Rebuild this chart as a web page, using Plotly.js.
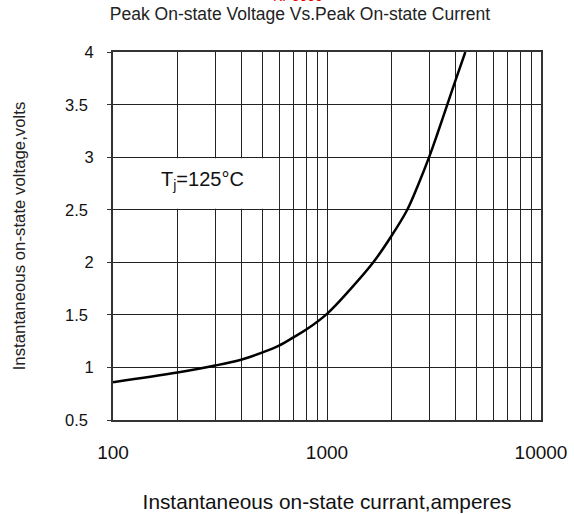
<!DOCTYPE html>
<html>
<head>
<meta charset="utf-8">
<script src="https://cdn.plot.ly/plotly-3.0.1.min.js"></script>
<style>html,body{margin:0;padding:0;background:#fff;}</style>
</head>
<body>
<div id="chart" style="width:574px;height:514px;"></div>
<script>
const currentA = [100, 200, 300, 400, 500, 600, 700, 800, 1000, 1281, 1646, 2000, 2372, 2671, 3000, 3277, 3648, 4000, 4430];
const voltageV = [0.86, 0.952, 1.018, 1.076, 1.143, 1.21, 1.288, 1.36, 1.51, 1.74, 2.0, 2.25, 2.5, 2.74, 3.0, 3.22, 3.5, 3.74, 4.0];
const xTickVals = [100, 1000, 10000];
const xTickText = ['100', '1000', '10000'];
const yIntTickVals = [1, 2, 3, 4];
const yIntTickText = ['1', '2', '3', '4'];
const yHalfTickVals = [0.5, 1.5, 2.5, 3.5];
const yHalfTickText = ['0.5', '1.5', '2.5', '3.5'];

const font = 'Liberation Sans, Arial, sans-serif';

const trace = {
  x: currentA, y: voltageV, type: 'scatter', mode: 'lines',
  line: {color: '#000', width: 2.5, shape: 'spline', smoothing: 1.0},
  hoverinfo: 'skip', showlegend: false
};

const halfLabels = yHalfTickVals.map((v, i) => ({
  text: yHalfTickText[i], xref: 'paper', yref: 'y', x: 0, y: v,
  xanchor: 'right', yanchor: 'middle', xshift: -23, showarrow: false,
  font: {family: font, size: 16.5, color: '#111'}
}));

const layout = {
  width: 574, height: 514,
  margin: {l: 113, r: 33, t: 52, b: 94},
  paper_bgcolor: '#fff', plot_bgcolor: '#fff',
  font: {family: font, color: '#111'},
  title: {text: 'Peak On-state Voltage Vs.Peak On-state Current', font: {family: font, size: 17.5, color: '#222'},
          x: 300/574, xanchor: 'center', xref: 'container', y: 1 - 14/514, yanchor: 'middle', yref: 'container'},
  xaxis: {
    type: 'log', range: [2, 4], tickvals: xTickVals, ticktext: xTickText,
    tickfont: {family: font, size: 19, color: '#111'},
    ticks: '', ticklabelstandoff: 14,
    showgrid: true, gridcolor: '#222', gridwidth: 1,
    minor: {dtick: 'D1', showgrid: true, gridcolor: '#222', gridwidth: 1, ticks: ''},
    showline: true, linecolor: '#333', linewidth: 2, mirror: true,
    zeroline: false, fixedrange: true,
    title: {text: 'Instantaneous on-state currant,amperes', font: {family: font, size: 20.8, color: '#111'}, standoff: 33}
  },
  yaxis: {
    range: [0.5, 4], zeroline: false, fixedrange: true,
    tickfont: {family: font, size: 16.5, color: '#111'},
    tickvals: yIntTickVals, ticktext: yIntTickText,
    ticks: 'outside', ticklen: 4, tickcolor: '#333', ticklabelstandoff: 10,
    showgrid: true, gridcolor: '#222', gridwidth: 1,
    minor: {tickvals: yHalfTickVals, showgrid: true, gridcolor: '#222', gridwidth: 1, ticks: 'outside', ticklen: 4, tickcolor: '#333'},
    showline: true, linecolor: '#333', linewidth: 2, mirror: true,
    title: {text: 'Instantaneous on-state voltage,volts', font: {family: font, size: 16.8, color: '#222'}, standoff: 55}
  },
  shapes: [{
    type: 'rect', xref: 'x', yref: 'y', x0: 101.5, x1: 597, y0: 2.51, y1: 2.99,
    fillcolor: '#fff', line: {width: 0}, layer: 'above'
  }],
  annotations: halfLabels.concat([
    {text: 'T<sub>j</sub>=125°C', xref: 'paper', yref: 'paper', x: (202-113)/428, y: (420-180)/368,
     xanchor: 'center', yanchor: 'middle', showarrow: false, font: {family: font, size: 20, color: '#111'}},
    {text: 'KP3000', xref: 'paper', yref: 'paper', x: (298-113)/428, y: 1, yshift: 56,
     xanchor: 'center', yanchor: 'middle', showarrow: false, font: {family: font, size: 14, color: '#e00'}}
  ])
};

Plotly.newPlot('chart', [trace], layout, {displayModeBar: false, staticPlot: true});
</script>
</body>
</html>
